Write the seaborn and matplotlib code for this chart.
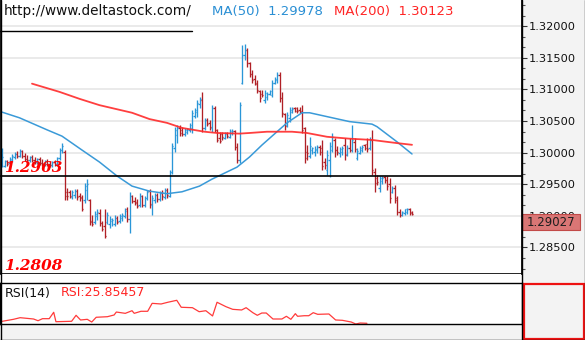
import matplotlib
matplotlib.use("Agg")
import numpy as np
import pandas as pd
import matplotlib.pyplot as plt
from matplotlib.patches import Rectangle
from matplotlib.lines import Line2D
from matplotlib.ticker import MultipleLocator, AutoMinorLocator, FormatStrFormatter
import seaborn as sns

# ---- price bars (OHLC) ----
opens = [1.2984, 1.2979, 1.2987, 1.2984, 1.2989, 1.2993, 1.2998, 1.2995, 1.3003, 1.2995,
         1.2990, 1.2989, 1.2993, 1.2989, 1.2985, 1.2990, 1.2984, 1.2982, 1.2987, 1.2982,
         1.2981, 1.2985, 1.2982, 1.2992, 1.3004, 1.3001, 1.2938, 1.2937, 1.2930, 1.2933,
         1.2940, 1.2932, 1.2930, 1.2925, 1.2941, 1.2925, 1.2892, 1.2891, 1.2900, 1.2905,
         1.2889, 1.2884, 1.2891, 1.2887, 1.2892, 1.2887, 1.2897, 1.2892, 1.2897, 1.2900,
         1.2910, 1.2895, 1.2932, 1.2924, 1.2922, 1.2917, 1.2932, 1.2917, 1.2928, 1.2940,
         1.2917, 1.2925, 1.2933, 1.2927, 1.2936, 1.2930, 1.2941, 1.2932, 1.2970, 1.3008,
         1.3028, 1.3039, 1.3036, 1.3030, 1.3033, 1.3036, 1.3039, 1.3058, 1.3064, 1.3077,
         1.3083, 1.3039, 1.3052, 1.3047, 1.3039, 1.3071, 1.3036, 1.3023, 1.3030, 1.3023,
         1.3031, 1.3025, 1.3031, 1.3034, 1.3009, 1.2989, 1.3110, 1.3154, 1.3162, 1.3142,
         1.3124, 1.3116, 1.3110, 1.3098, 1.3093, 1.3083, 1.3088, 1.3093, 1.3091, 1.3110,
         1.3115, 1.3123, 1.3087, 1.3061, 1.3044, 1.3055, 1.3064, 1.3071, 1.3071, 1.3068,
         1.3066, 1.3039, 1.3001, 1.2995, 1.3004, 1.3001, 1.3004, 1.3009, 1.3008, 1.2985,
         1.2973, 1.2989, 1.3004, 1.3020, 1.3004, 1.3000, 1.3001, 1.3012, 1.2998, 1.3008,
         1.3004, 1.3017, 1.2992, 1.3000, 1.3004, 1.3012, 1.3014, 1.3008, 1.3020, 1.2970,
         1.2960, 1.2944, 1.2955, 1.2962, 1.2957, 1.2951, 1.2938, 1.2944, 1.2928, 1.2906,
         1.2902, 1.2905, 1.2906, 1.2911, 1.2906]
highs = [1.3008, 1.2989, 1.2989, 1.2993, 1.2998, 1.3001, 1.3003, 1.3006, 1.3004, 1.3000,
         1.2996, 1.2995, 1.2996, 1.2993, 1.2992, 1.2993, 1.2990, 1.2989, 1.2990, 1.2987,
         1.2987, 1.2989, 1.2993, 1.3008, 1.3015, 1.3004, 1.2944, 1.2941, 1.2941, 1.2943,
         1.2943, 1.2936, 1.2933, 1.2952, 1.2958, 1.2927, 1.2902, 1.2908, 1.2911, 1.2911,
         1.2892, 1.2910, 1.2906, 1.2900, 1.2897, 1.2902, 1.2900, 1.2903, 1.2905, 1.2913,
         1.2914, 1.2938, 1.2933, 1.2930, 1.2927, 1.2936, 1.2933, 1.2932, 1.2941, 1.2943,
         1.2933, 1.2936, 1.2936, 1.2940, 1.2941, 1.2944, 1.2944, 1.2973, 1.3015, 1.3041,
         1.3044, 1.3044, 1.3041, 1.3039, 1.3039, 1.3047, 1.3068, 1.3071, 1.3083, 1.3088,
         1.3096, 1.3055, 1.3055, 1.3052, 1.3075, 1.3074, 1.3037, 1.3033, 1.3033, 1.3033,
         1.3033, 1.3037, 1.3037, 1.3036, 1.3015, 1.3080, 1.3170, 1.3172, 1.3165, 1.3143,
         1.3131, 1.3123, 1.3115, 1.3099, 1.3099, 1.3099, 1.3096, 1.3099, 1.3115, 1.3120,
         1.3128, 1.3128, 1.3096, 1.3063, 1.3064, 1.3072, 1.3072, 1.3072, 1.3072, 1.3072,
         1.3075, 1.3041, 1.3012, 1.3025, 1.3009, 1.3011, 1.3012, 1.3012, 1.3020, 1.2992,
         1.3004, 1.3017, 1.3031, 1.3023, 1.3011, 1.3009, 1.3011, 1.3023, 1.3012, 1.3023,
         1.3044, 1.3023, 1.3008, 1.3011, 1.3012, 1.3014, 1.3023, 1.3025, 1.3036, 1.2976,
         1.2965, 1.2963, 1.2963, 1.2963, 1.2963, 1.2960, 1.2947, 1.2949, 1.2932, 1.2910,
         1.2908, 1.2911, 1.2913, 1.2913, 1.2908]
lows = [1.2977, 1.2977, 1.2979, 1.2982, 1.2985, 1.2990, 1.2992, 1.2993, 1.2992, 1.2987,
        1.2985, 1.2985, 1.2985, 1.2982, 1.2982, 1.2981, 1.2979, 1.2979, 1.2979, 1.2977,
        1.2977, 1.2979, 1.2979, 1.2989, 1.3000, 1.2925, 1.2925, 1.2928, 1.2927, 1.2928,
        1.2925, 1.2924, 1.2908, 1.2921, 1.2925, 1.2886, 1.2884, 1.2887, 1.2894, 1.2884,
        1.2876, 1.2865, 1.2887, 1.2881, 1.2884, 1.2884, 1.2887, 1.2889, 1.2892, 1.2897,
        1.2891, 1.2873, 1.2921, 1.2917, 1.2913, 1.2914, 1.2914, 1.2914, 1.2925, 1.2913,
        1.2902, 1.2921, 1.2922, 1.2924, 1.2925, 1.2927, 1.2928, 1.2930, 1.2966, 1.3001,
        1.3015, 1.3026, 1.3026, 1.3026, 1.3030, 1.3033, 1.3031, 1.3055, 1.3057, 1.3071,
        1.3033, 1.3036, 1.3042, 1.3036, 1.3033, 1.3033, 1.3017, 1.3015, 1.3020, 1.3022,
        1.3023, 1.3023, 1.3028, 1.3004, 1.2984, 1.2984, 1.3109, 1.3147, 1.3135, 1.3120,
        1.3110, 1.3107, 1.3094, 1.3080, 1.3088, 1.3079, 1.3083, 1.3091, 1.3088, 1.3109,
        1.3110, 1.3080, 1.3057, 1.3036, 1.3041, 1.3049, 1.3063, 1.3064, 1.3063, 1.3063,
        1.3031, 1.2984, 1.2989, 1.2992, 1.2998, 1.2995, 1.3000, 1.2996, 1.2973, 1.2974,
        1.2965, 1.2962, 1.3001, 1.2993, 1.2996, 1.2993, 1.2996, 1.2989, 1.2995, 1.3001,
        1.3001, 1.3001, 1.2989, 1.2998, 1.3001, 1.3004, 1.3001, 1.3004, 1.2965, 1.2938,
        1.2949, 1.2938, 1.2951, 1.2952, 1.2941, 1.2921, 1.2936, 1.2921, 1.2902, 1.2898,
        1.2900, 1.2902, 1.2903, 1.2902, 1.2902]
closes = [1.2993, 1.2987, 1.2982, 1.2990, 1.2995, 1.2998, 1.2995, 1.3003, 1.2995, 1.2990,
          1.2989, 1.2993, 1.2989, 1.2985, 1.2990, 1.2984, 1.2982, 1.2987, 1.2982, 1.2981,
          1.2985, 1.2982, 1.2992, 1.3004, 1.3011, 1.2932, 1.2932, 1.2932, 1.2938, 1.2940,
          1.2930, 1.2928, 1.2911, 1.2947, 1.2951, 1.2891, 1.2887, 1.2903, 1.2906, 1.2889,
          1.2879, 1.2868, 1.2902, 1.2895, 1.2894, 1.2897, 1.2891, 1.2900, 1.2902, 1.2908,
          1.2895, 1.2932, 1.2924, 1.2921, 1.2916, 1.2932, 1.2917, 1.2928, 1.2938, 1.2919,
          1.2928, 1.2933, 1.2927, 1.2936, 1.2932, 1.2941, 1.2933, 1.2970, 1.3011, 1.3036,
          1.3039, 1.3031, 1.3030, 1.3036, 1.3037, 1.3044, 1.3063, 1.3068, 1.3079, 1.3085,
          1.3039, 1.3052, 1.3045, 1.3041, 1.3071, 1.3036, 1.3020, 1.3019, 1.3025, 1.3030,
          1.3026, 1.3034, 1.3034, 1.3009, 1.2989, 1.3075, 1.3154, 1.3162, 1.3142, 1.3124,
          1.3115, 1.3109, 1.3099, 1.3087, 1.3091, 1.3094, 1.3093, 1.3098, 1.3110, 1.3116,
          1.3123, 1.3087, 1.3063, 1.3042, 1.3060, 1.3068, 1.3069, 1.3066, 1.3066, 1.3064,
          1.3036, 1.2992, 1.3000, 1.3011, 1.3008, 1.3006, 1.3009, 1.3001, 1.2979, 1.2981,
          1.2996, 1.3011, 1.3025, 1.3004, 1.3001, 1.3006, 1.3008, 1.2996, 1.3008, 1.3004,
          1.3020, 1.3006, 1.3003, 1.3008, 1.3009, 1.3008, 1.3006, 1.3020, 1.2973, 1.2952,
          1.2954, 1.2960, 1.2960, 1.2957, 1.2947, 1.2928, 1.2944, 1.2925, 1.2906, 1.2902,
          1.2906, 1.2910, 1.2911, 1.2905, 1.29027]

# ---- moving averages (bar number, value) ----
ma50_bar = [0, 7, 18, 24, 32, 39, 46, 52, 59, 66, 72, 79, 84, 94, 99, 104, 110, 114,
            120, 123, 131, 139, 148, 150, 158, 164]
ma50_val = [1.3064, 1.3055, 1.3036, 1.3026, 1.3004, 1.2985, 1.2963, 1.2947, 1.2939,
            1.2935, 1.2938, 1.2947, 1.2958, 1.2977, 1.2993, 1.3012, 1.3033, 1.3047,
            1.3063, 1.3063, 1.3056, 1.3049, 1.3045, 1.3041, 1.3017, 1.29978]
ma200_bar = [12, 23, 31, 39, 52, 59, 66, 72, 81, 86, 95, 99, 106, 116, 122, 130, 139,
             148, 158, 164]
ma200_val = [1.3109, 1.3096, 1.3085, 1.3075, 1.3063, 1.3053, 1.3047, 1.3039, 1.3033,
             1.3031, 1.3030, 1.3031, 1.3033, 1.3033, 1.3031, 1.3025, 1.3022, 1.3020,
             1.3015, 1.30123]

# ---- RSI(14) ----
rsi_bar = [0, 6, 9, 15, 17, 19, 22, 24, 25, 32, 34, 36, 39, 41, 43, 48, 51, 52, 56, 59,
           60, 63, 66, 68, 72, 75, 79, 81, 86, 89, 92, 95, 97, 101, 104, 108, 110, 113,
           115, 117, 119, 122, 126, 128, 130, 132, 133, 136, 138, 140, 142, 147, 150,
           153, 157, 159, 161, 164]
rsi_val = [27.8, 30.7, 32.7, 31.1, 29.0, 31.5, 31.5, 39.3, 27.8, 28.3, 35.6, 29.9, 30.7,
           27.4, 33.2, 33.9, 36.0, 39.6, 38.0, 41.2, 38.0, 40.5, 40.5, 50.2, 49.4, 51.5,
           53.9, 45.4, 44.9, 40.0, 41.2, 34.8, 51.5, 46.1, 42.9, 42.1, 44.9, 38.8, 35.6,
           38.4, 38.4, 31.1, 31.1, 34.4, 30.7, 37.6, 34.4, 35.1, 35.1, 38.8, 36.8, 37.2,
           29.9, 29.5, 27.4, 25.0, 26.2, 25.85457]

# ---- horizontal levels ----
levels = [1.2963, 1.2808]

W, H = 585, 340
BLUE = "#2a96d8"
DARK_RED = "#b02026"
RED = "#ff2424"

sns.set_theme(style="white")
plt.rcParams["font.family"] = ["DejaVu Sans"]

fig = plt.figure(figsize=(W / 100, H / 100), dpi=100, facecolor="#f3f3f3")

def fx(px):
    return px / W

def fy(py):
    return 1 - py / H

# main price panel
ax = fig.add_axes([0, fy(274), fx(522), 274 / H], facecolor="white")
# RSI panel
rax = fig.add_axes([0, fy(324), fx(522), 41 / H], facecolor="white")
# white gap between the panels
fig.add_artist(Rectangle((0, fy(283)), fx(522), 9 / H, transform=fig.transFigure,
                         facecolor="white", edgecolor="none", zorder=0))

bars = pd.DataFrame({"open": opens, "high": highs, "low": lows, "close": closes})
bars["bar"] = np.arange(len(bars))
bars["up"] = bars["close"] >= bars["open"]
colors = np.where(bars["up"], BLUE, DARK_RED)

tw = 0.45
bar_lw = 0.95
ax.vlines(bars["bar"], bars["low"], bars["high"], colors=colors, lw=bar_lw, zorder=3)
ax.hlines(bars["open"], bars["bar"] - tw, bars["bar"], colors=colors, lw=bar_lw,
          zorder=3)
ax.hlines(bars["close"], bars["bar"], bars["bar"] + tw, colors=colors, lw=bar_lw,
          zorder=3)

ma50 = pd.DataFrame({"bar": ma50_bar, "value": ma50_val})
ma200 = pd.DataFrame({"bar": ma200_bar, "value": ma200_val})
sns.lineplot(data=ma50, x="bar", y="value", ax=ax, color="#3a9ad8", lw=1.1,
             legend=False, zorder=4)
sns.lineplot(data=ma200, x="bar", y="value", ax=ax, color="#ff2a2a", lw=1.3,
             alpha=0.9, legend=False, zorder=4)

ax.set_xlim(-0.8, 208.0)
ax.set_ylim(levels[1], 1.32413)

for lv in levels:
    ax.axhline(lv, color="black", lw=1.2, zorder=5)
    ax.annotate(f"{lv:.4f}", xy=(0.008, lv), xycoords=("axes fraction", "data"),
                xytext=(0, 3), textcoords="offset points", va="baseline", ha="left",
                fontsize=11, fontweight="bold", fontstyle="italic",
                family="DejaVu Serif", color="#ff0000", zorder=6)

ax.yaxis.tick_right()
ax.yaxis.set_major_locator(MultipleLocator(0.005))
ax.yaxis.set_major_formatter(FormatStrFormatter("%.5f"))
ax.yaxis.set_minor_locator(AutoMinorLocator(3))
ax.tick_params(axis="y", which="major", right=True, left=False, length=3.5, width=0.8,
               color="#333333", labelsize=8.2, pad=1.5, labelcolor="#111111")
ax.tick_params(axis="y", which="minor", right=True, left=False, length=2.5, width=0.8,
               color="#555555")
ax.set_xticks([])
ax.set_xlabel("")
ax.set_ylabel("")
ax.grid(axis="y", which="major", color="#e6e6e6", lw=1.2, zorder=0)
ax.set_axisbelow(True)
for side in ["top", "bottom"]:
    ax.spines[side].set_visible(False)
ax.spines["left"].set_color("black")
ax.spines["right"].set_color("black")

# current price tag, drawn over the scale
last = closes[-1]
y_ax = ax.transLimits.transform((0, last))[1]
ax.add_patch(Rectangle((1.0, y_ax - 16 / 274), 58 / 522, 16 / 274,
                       transform=ax.transAxes, facecolor="#d97675",
                       edgecolor="#c24a48", lw=0.8, clip_on=False, zorder=10))
ax.text(1.0 + 29 / 522, y_ax - 8 / 274, f"{last:.5f}", transform=ax.transAxes,
        ha="center", va="center", fontsize=8.5, color="#1e1e1e", zorder=11,
        clip_on=False)

# RSI panel
rsi = pd.DataFrame({"bar": rsi_bar, "value": rsi_val})
sns.lineplot(data=rsi, x="bar", y="value", ax=rax, color="#ff3b3b", lw=0.9,
             legend=False)
rax.set_xlim(0, 233.3)
rax.set_ylim(25, 75)
rax.set_xticks([])
rax.set_yticks([])
rax.set_xlabel("")
rax.set_ylabel("")
for side in ["top", "bottom", "left", "right"]:
    rax.spines[side].set_color("black")
    rax.spines[side].set_linewidth(1.0)

fig.text(fx(5), fy(293), "RSI(14)", fontsize=9, color="#111111", va="center")
fig.text(fx(61), fy(293), f"RSI:{rsi_val[-1]:.5f}", fontsize=9, color=RED,
         va="center")

# header
fig.text(fx(4), fy(11), "http://www.deltastock.com/", fontsize=9.8, color="#111111",
         va="center")
fig.text(fx(212), fy(11), f"MA(50)  {ma50_val[-1]:.5f}", fontsize=9.5,
         color="#2a8fd4", va="center")
fig.text(fx(334), fy(11), f"MA(200)  {ma200_val[-1]:.5f}", fontsize=9.5,
         color=RED, va="center")
fig.add_artist(Line2D([0, fx(192)], [fy(31), fy(31)], transform=fig.transFigure,
                      color="black", lw=1.0))

# right scale separator and outer frame
fig.add_artist(Line2D([fx(522), fx(522)], [0, 1], transform=fig.transFigure,
                      color="black", lw=1.0))
fig.add_artist(Line2D([fx(0.5), fx(0.5)], [0, 1], transform=fig.transFigure,
                      color="black", lw=1.0))
fig.add_artist(Line2D([0, 1], [fy(339.5), fy(339.5)], transform=fig.transFigure,
                      color="black", lw=1.0))
fig.add_artist(Line2D([fx(584.5), fx(584.5)], [0, 1], transform=fig.transFigure,
                      color="#333333", lw=1.0))
# RSI scale box
fig.add_artist(Rectangle((fx(523.5), fy(338.5)), fx(60), 54.5 / H,
                         transform=fig.transFigure, facecolor="none",
                         edgecolor="#ee1111", lw=1.6))

fig.savefig("out.png", dpi=100, facecolor=fig.get_facecolor())
